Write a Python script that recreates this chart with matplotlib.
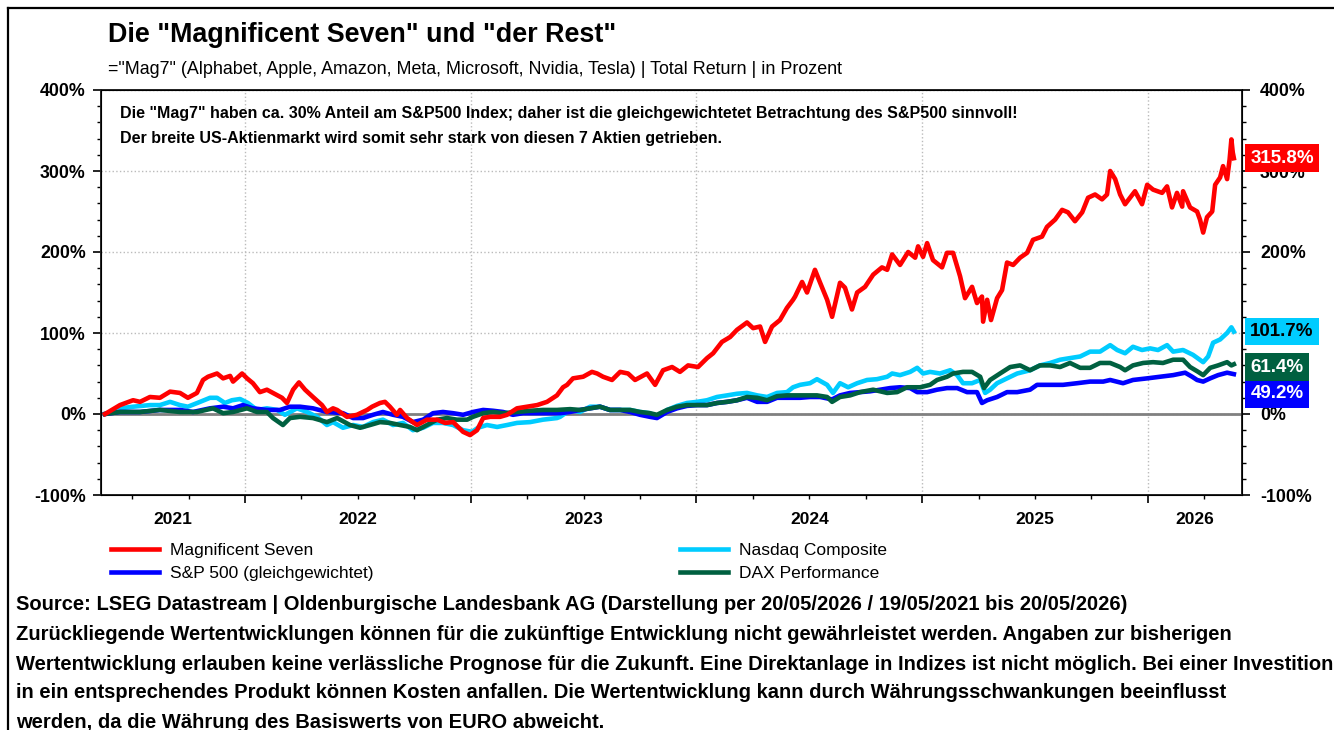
import numpy as np
import pandas as pd
import matplotlib
matplotlib.use('Agg')
import matplotlib.pyplot as plt
import matplotlib.ticker as ticker
import matplotlib.transforms as mtransforms
from matplotlib.lines import Line2D

plt.rcParams['font.family'] = ['Liberation Sans', 'DejaVu Sans']

# Zeit als Dezimaljahr, Werte = Total Return in % seit 19/05/2021
mag7_t = [2021.380, 2021.446, 2021.504, 2021.535, 2021.579, 2021.623, 2021.668, 2021.712, 2021.747, 2021.787,
          2021.814, 2021.836, 2021.876, 2021.903, 2021.934, 2021.947, 2021.987, 2022.009, 2022.035, 2022.066,
          2022.097, 2022.124, 2022.164, 2022.186, 2022.213, 2022.239, 2022.266, 2022.301, 2022.341, 2022.363,
          2022.390, 2022.408, 2022.452, 2022.496, 2022.541, 2022.563, 2022.598, 2022.620, 2022.642, 2022.673,
          2022.687, 2022.718, 2022.762, 2022.806, 2022.851, 2022.886, 2022.922, 2022.966, 2022.997, 2023.028,
          2023.055, 2023.086, 2023.130, 2023.161, 2023.205, 2023.249, 2023.294, 2023.338, 2023.382, 2023.409,
          2023.427, 2023.453, 2023.498, 2023.537, 2023.560, 2023.586, 2023.626, 2023.662, 2023.697, 2023.728,
          2023.781, 2023.817, 2023.852, 2023.892, 2023.927, 2023.963, 2024.007, 2024.047, 2024.074, 2024.113,
          2024.149, 2024.180, 2024.224, 2024.251, 2024.282, 2024.304, 2024.335, 2024.370, 2024.401, 2024.428,
          2024.437, 2024.468, 2024.490, 2024.525, 2024.548, 2024.579, 2024.601, 2024.636, 2024.658, 2024.689,
          2024.712, 2024.747, 2024.783, 2024.822, 2024.845, 2024.867, 2024.902, 2024.938, 2024.969, 2024.982,
          2025.004, 2025.022, 2025.048, 2025.088, 2025.110, 2025.137, 2025.168, 2025.190, 2025.221, 2025.243,
          2025.265, 2025.270, 2025.288, 2025.305, 2025.332, 2025.354, 2025.376, 2025.403, 2025.434, 2025.465,
          2025.491, 2025.531, 2025.553, 2025.589, 2025.620, 2025.646, 2025.677, 2025.709, 2025.735, 2025.766,
          2025.797, 2025.819, 2025.833, 2025.855, 2025.877, 2025.899, 2025.943, 2025.974, 2025.997, 2026.023,
          2026.063, 2026.085, 2026.107, 2026.129, 2026.152, 2026.156, 2026.187, 2026.218, 2026.231, 2026.245,
          2026.262, 2026.285, 2026.298, 2026.320, 2026.333, 2026.351, 2026.362, 2026.370, 2026.376, 2026.381]
mag7_v = [0, 11, 17, 15, 21, 20, 27.6, 26, 20, 26,
          42, 46, 50, 44, 47, 40, 50, 44, 38, 27,
          30, 26, 20, 13.6, 30, 39, 30, 21, 11, 2.5,
          7, 5, -3.5, -1, 5, 9, 13.6, 15, 9, -1,
          5, -5, -13.6, -7, -7, -11, -10, -22, -26, -20,
          -5, -3.5, -3.5, -1, 7, 9, 11, 15, 23, 33,
          36, 44, 46, 52, 50, 46, 42, 52, 50, 42,
          50, 36, 54, 58, 52, 60, 58, 69, 75, 89,
          95, 104, 113, 106, 108, 89, 108, 116, 131, 141,
          145, 163, 150, 178, 162, 141, 120, 162, 156, 129,
          150, 157, 172, 181, 178, 197, 184, 200, 193, 207,
          194, 211, 190, 181, 199, 199, 170, 143, 157, 137,
          145, 114, 141, 116, 143, 153, 187, 184, 193, 199,
          215, 219, 231, 240, 252, 249, 238, 249, 267, 271,
          265, 271, 300, 290, 271, 259, 275, 259, 283, 277,
          273, 281, 255, 273, 256, 275, 255, 250, 240, 224,
          243, 250, 283, 292, 306, 290, 314, 339, 323, 315.8]

nasdaq_t = [2021.380, 2021.446, 2021.504, 2021.579, 2021.623, 2021.668, 2021.712, 2021.747, 2021.801, 2021.845,
            2021.876, 2021.911, 2021.942, 2021.978, 2022.013, 2022.053, 2022.097, 2022.142, 2022.177, 2022.230,
            2022.275, 2022.319, 2022.363, 2022.390, 2022.434, 2022.479, 2022.523, 2022.567, 2022.611, 2022.656,
            2022.700, 2022.744, 2022.789, 2022.833, 2022.877, 2022.922, 2022.966, 2023.006, 2023.032, 2023.072,
            2023.117, 2023.161, 2023.205, 2023.263, 2023.320, 2023.382, 2023.396, 2023.440, 2023.484, 2023.529,
            2023.573, 2023.617, 2023.662, 2023.706, 2023.750, 2023.794, 2023.825, 2023.870, 2023.914, 2023.958,
            2024.003, 2024.047, 2024.091, 2024.136, 2024.180, 2024.224, 2024.269, 2024.313, 2024.357, 2024.401,
            2024.428, 2024.459, 2024.503, 2024.534, 2024.579, 2024.605, 2024.636, 2024.672, 2024.712, 2024.756,
            2024.800, 2024.845, 2024.867, 2024.902, 2024.947, 2024.978, 2025.004, 2025.035, 2025.079, 2025.124,
            2025.155, 2025.181, 2025.221, 2025.257, 2025.279, 2025.301, 2025.332, 2025.376, 2025.421, 2025.478,
            2025.522, 2025.567, 2025.611, 2025.655, 2025.700, 2025.744, 2025.788, 2025.833, 2025.864, 2025.899,
            2025.934, 2025.974, 2026.010, 2026.045, 2026.085, 2026.112, 2026.156, 2026.200, 2026.245, 2026.267,
            2026.289, 2026.320, 2026.351, 2026.370, 2026.381]
nasdaq_v = [0, 7, 9, 11, 11, 15, 11, 9, 15, 20,
            20, 13.6, 17, 18.5, 13.6, 5, 7, 5, -1, 7,
            2.5, -3.5, -13.6, -10, -17, -13.6, -16, -10, -7, -13.6,
            -11, -20, -17, -11, -11, -13.6, -20, -22, -17, -13.6,
            -16, -13.6, -11, -10, -7, -5, -3.5, 5, 2.5, 9,
            9, 5, 5, 5, 2.5, 1, -3.5, 5, 10, 13.6,
            15, 17, 21, 23, 25, 26, 23, 21, 26, 27,
            33, 36, 38, 43, 36, 26, 38, 33, 38, 42,
            43, 46, 50, 48, 52, 57, 50, 52, 50, 54,
            48, 38, 38, 42, 26, 30, 38, 44, 50, 54,
            60, 63, 67, 69, 71, 77, 77, 85, 79, 75,
            83, 79, 81, 79, 85, 77, 79, 73, 64, 71,
            88, 92, 100, 107, 101.7]

sp500ew_t = [2021.380, 2021.446, 2021.535, 2021.623, 2021.712, 2021.770, 2021.845, 2021.903, 2021.947, 2021.991,
             2022.035, 2022.097, 2022.155, 2022.199, 2022.244, 2022.301, 2022.363, 2022.390, 2022.434, 2022.479,
             2022.523, 2022.567, 2022.611, 2022.656, 2022.700, 2022.744, 2022.789, 2022.833, 2022.877, 2022.922,
             2022.966, 2023.010, 2023.055, 2023.099, 2023.143, 2023.187, 2023.232, 2023.294, 2023.351, 2023.396,
             2023.440, 2023.484, 2023.529, 2023.573, 2023.617, 2023.662, 2023.706, 2023.750, 2023.794, 2023.825,
             2023.870, 2023.914, 2023.958, 2024.003, 2024.047, 2024.091, 2024.136, 2024.180, 2024.224, 2024.269,
             2024.313, 2024.357, 2024.401, 2024.459, 2024.503, 2024.548, 2024.601, 2024.636, 2024.681, 2024.725,
             2024.769, 2024.814, 2024.858, 2024.902, 2024.947, 2024.978, 2025.022, 2025.066, 2025.110, 2025.155,
             2025.199, 2025.243, 2025.265, 2025.288, 2025.332, 2025.376, 2025.421, 2025.478, 2025.509, 2025.567,
             2025.624, 2025.686, 2025.744, 2025.802, 2025.833, 2025.890, 2025.934, 2025.997, 2026.054, 2026.112,
             2026.165, 2026.196, 2026.218, 2026.245, 2026.276, 2026.311, 2026.351, 2026.381]
sp500ew_v = [0, 2.5, 2.5, 5, 5, 2.5, 7, 9, 7, 11,
             7, 5, 5, 9, 9, 7, 2.5, 2, 1, -5,
             -5, -1, 2.5, -1, -3.5, -10, -7, 1, 2.5, 1,
             -1, 2.5, 5, 4, 2.5, -1, 1, 1, 1, 1,
             2.5, 5, 7, 9, 5, 5, 2.5, -1, -3.5, -5,
             2.5, 7, 10, 11, 11, 13.6, 15, 17, 20, 15,
             15, 20, 20, 20, 21, 21, 18, 23, 26, 27,
             28, 30, 32, 33, 32, 27, 27, 30, 32, 32,
             27, 27, 13.6, 17, 21, 27, 27, 30, 36, 36,
             36, 38, 40, 40, 42, 38, 42, 44, 46, 48,
             51, 46, 42, 40, 44, 48, 51, 49.2]

dax_t = [2021.380, 2021.446, 2021.535, 2021.623, 2021.712, 2021.787, 2021.858, 2021.903, 2021.947, 2022.009,
         2022.053, 2022.097, 2022.124, 2022.168, 2022.199, 2022.244, 2022.301, 2022.363, 2022.408, 2022.465,
         2022.510, 2022.554, 2022.598, 2022.642, 2022.687, 2022.731, 2022.762, 2022.806, 2022.851, 2022.895,
         2022.939, 2022.984, 2023.010, 2023.055, 2023.099, 2023.143, 2023.205, 2023.263, 2023.320, 2023.382,
         2023.440, 2023.484, 2023.529, 2023.573, 2023.617, 2023.662, 2023.706, 2023.750, 2023.794, 2023.825,
         2023.870, 2023.914, 2023.958, 2024.003, 2024.047, 2024.091, 2024.136, 2024.180, 2024.224, 2024.269,
         2024.313, 2024.357, 2024.401, 2024.472, 2024.534, 2024.579, 2024.601, 2024.636, 2024.681, 2024.725,
         2024.783, 2024.845, 2024.889, 2024.933, 2024.991, 2025.035, 2025.066, 2025.110, 2025.137, 2025.181,
         2025.221, 2025.257, 2025.274, 2025.301, 2025.345, 2025.390, 2025.434, 2025.478, 2025.522, 2025.567,
         2025.611, 2025.655, 2025.700, 2025.744, 2025.788, 2025.833, 2025.877, 2025.899, 2025.934, 2025.979,
         2026.023, 2026.067, 2026.112, 2026.156, 2026.187, 2026.223, 2026.245, 2026.276, 2026.311, 2026.351,
         2026.370, 2026.381]
dax_v = [0, 2.5, 2.5, 5, 2.5, 2.5, 7, 1, 2.5, 7,
         2.5, 2.5, -5, -13.6, -5, -3.5, -5, -10, -5, -13.6,
         -17, -13.6, -10, -11, -13.6, -16, -20, -13.6, -7, -5,
         -7, -7, -3.5, 1, 2.5, 1, 2.5, 4, 5, 5,
         6, 5, 7, 9, 5, 5, 5, 2.5, 1, -1,
         5, 9, 11, 11, 11, 13.6, 15, 17, 21, 20,
         17, 22, 23, 23, 23, 21, 15, 21, 23, 27,
         30, 26, 27, 33, 33, 36, 42, 46, 50, 52,
         52, 46, 32, 42, 50, 58, 60, 54, 60, 60,
         58, 63, 57, 57, 63, 63, 58, 54, 60, 63,
         64, 63, 67, 67, 58, 52, 48, 57, 60, 64,
         60, 61.4]

series_names = ['Magnificent Seven', 'S&P 500 (gleichgewichtet)', 'Nasdaq Composite', 'DAX Performance']
series_colors = ['#FF0000', '#0000FF', '#00CCFF', '#006040']
end_labels = ['315.8%', '49.2%', '101.7%', '61.4%']
end_label_y = [315.8, 25, 101.7, 58]
end_label_fg = ['white', 'white', 'black', 'white']

x_min, x_max = 2021.362, 2026.417

fig = plt.figure(figsize=(13.34, 7.30), dpi=100)
ax = fig.add_axes([101 / 1334, 1 - 495 / 730, 1141 / 1334, 405 / 730])

data = [(mag7_t, mag7_v), (sp500ew_t, sp500ew_v), (nasdaq_t, nasdaq_v), (dax_t, dax_v)]
zorders = [6, 4, 3, 5]
handles = []
for (t, v), name, col, z in zip(data, series_names, series_colors, zorders):
    h, = ax.plot(t, v, color=col, lw=3.3, label=name, zorder=z, solid_joinstyle='round')
    handles.append(h)

ax.axhline(0, color='#808080', lw=2, zorder=2)
ax.set_xlim(x_min, x_max)
ax.set_ylim(-100, 400)

yt = [-100, 0, 100, 200, 300, 400]
ylab = [f'{v}%' for v in yt]
ax.set_yticks(yt, ylab, fontweight='bold', fontsize=12.8)
ax.yaxis.set_minor_locator(ticker.MultipleLocator(20))
ax.set_xticks([2022, 2023, 2024, 2025, 2026], [''] * 5)
ax.set_xticks(np.arange(2021.5, 2026.5, 0.25), minor=True)
ax.tick_params(axis='y', which='major', direction='out', length=6, width=1.2, pad=5)
ax.tick_params(axis='y', which='minor', direction='out', length=3, width=1)
ax.tick_params(axis='x', which='major', direction='out', length=6, width=1.2)
ax.tick_params(axis='x', which='minor', direction='out', length=3, width=1)
ax.grid(True, which='major', linestyle=':', color='#BBBBBB', lw=1)
for s in ax.spines.values():
    s.set_color('#222222')
    s.set_linewidth(1.4)

ax2 = ax.twinx()
ax2.set_ylim(-100, 400)
ax2.set_yticks(yt, ylab, fontweight='bold', fontsize=12.8)
ax2.yaxis.set_minor_locator(ticker.MultipleLocator(20))
ax2.tick_params(axis='y', which='major', direction='out', length=6, width=1.2, pad=7)
ax2.tick_params(axis='y', which='minor', direction='out', length=3, width=1)

# Jahresbeschriftung mittig im Jahr
blend = mtransforms.blended_transform_factory(ax.transData, ax.transAxes)
for yr in range(2021, 2027):
    lo = max(yr, x_min)
    hi = min(yr + 1, x_max)
    ax.text((lo + hi) / 2, -0.06, str(yr), transform=blend, ha='center', va='center',
            fontsize=12.5, fontweight='bold')

# Endwerte rechts
blend2 = mtransforms.blended_transform_factory(ax2.transAxes, ax2.transData)
for lab, yv, col, fg in zip(end_labels, end_label_y, series_colors, end_label_fg):
    ax2.annotate(lab, xy=(1.0, yv), xycoords=blend2, xytext=(6, 0), textcoords='offset points',
                 ha='left', va='center', fontsize=13.5, fontweight='bold', color=fg,
                 annotation_clip=False, zorder=10,
                 bbox=dict(boxstyle='square,pad=0.28', fc=col, ec='none'))

ax.text(0.0167, 0.941, 'Die "Mag7" haben ca. 30% Anteil am S&P500 Index; daher ist die gleichgewichtetet '
        'Betrachtung des S&P500 sinnvoll!', transform=ax.transAxes, fontsize=11.55, fontweight='bold',
        va='center', ha='left')
ax.text(0.0167, 0.881, 'Der breite US-Aktienmarkt wird somit sehr stark von diesen 7 Aktien getrieben.',
        transform=ax.transAxes, fontsize=11.55, fontweight='bold', va='center', ha='left')

fig.text(108 / 1334, 1 - 35 / 730, 'Die "Magnificent Seven" und "der Rest"', fontsize=19.4,
         fontweight='bold', va='center', ha='left')
fig.text(108 / 1334, 1 - 69 / 730,
         '="Mag7" (Alphabet, Apple, Amazon, Meta, Microsoft, Nvidia, Tesla) | Total Return | in Prozent',
         fontsize=12.9, va='center', ha='left')

leg_kw = dict(loc='upper left', frameon=False, fontsize=12.5, handlelength=2.75, handletextpad=0.65,
              labelspacing=0.42, borderpad=0, borderaxespad=0)
leg1 = fig.legend(handles=[handles[0], handles[1]], bbox_to_anchor=(111 / 1334, 1 - 543 / 730), **leg_kw)
leg2 = fig.legend(handles=[handles[2], handles[3]], bbox_to_anchor=(680 / 1334, 1 - 543 / 730), **leg_kw)

footer = ['Source: LSEG Datastream | Oldenburgische Landesbank AG (Darstellung per 20/05/2026 / 19/05/2021 bis 20/05/2026)',
          'Zurückliegende Wertentwicklungen können für die zukünftige Entwicklung nicht gewährleistet werden. Angaben zur bisherigen',
          'Wertentwicklung erlauben keine verlässliche Prognose für die Zukunft. Eine Direktanlage in Indizes ist nicht möglich. Bei einer Investition',
          'in ein entsprechendes Produkt können Kosten anfallen. Die Wertentwicklung kann durch Währungsschwankungen beeinflusst',
          'werden, da die Währung des Basiswerts von EURO abweicht.']
footer_y = [605, 635, 664, 693, 722]
for line, yy in zip(footer, footer_y):
    fig.text(16 / 1334, 1 - yy / 730, line, fontsize=14.5, fontweight='bold', va='center', ha='left')

# Rahmen links/oben
fig.add_artist(Line2D([8 / 1334, 8 / 1334], [0, 1 - 8 / 730], color='black', lw=1.6))
fig.add_artist(Line2D([8 / 1334, 1], [1 - 8 / 730, 1 - 8 / 730], color='black', lw=1.6))

fig.savefig('out.png', dpi=100)
